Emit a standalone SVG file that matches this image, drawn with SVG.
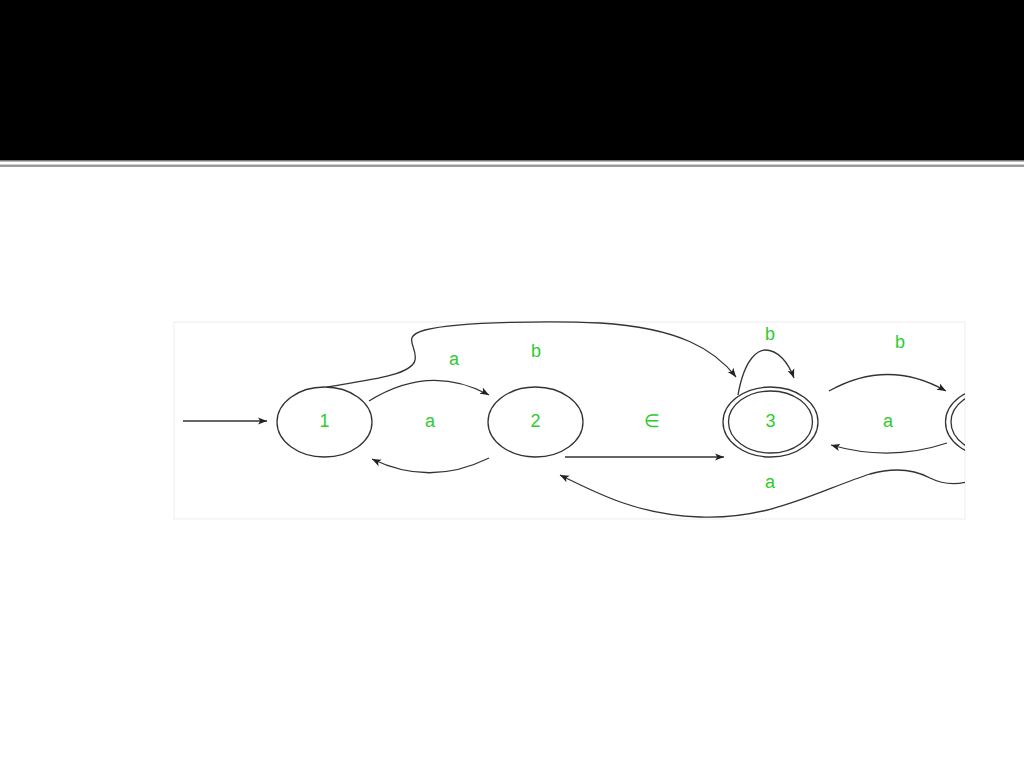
<svg xmlns="http://www.w3.org/2000/svg" width="1024" height="768" viewBox="0 0 1024 768">
<style>
.node{fill:none;stroke:#333;stroke-width:1.3}
.edge{fill:none;stroke:#333;stroke-width:1.3}
.lbl{font-family:"Liberation Sans",Arial,sans-serif;font-size:18px;fill:#2ecc2e;text-anchor:middle;dominant-baseline:central}
</style>
<defs>
<marker id="arr" viewBox="0 0 10 10" refX="10" refY="5" markerWidth="9" markerHeight="9" markerUnits="userSpaceOnUse" orient="auto">
<path d="M0,1 L10,5 L0,9 L2.5,5 Z" fill="#222"/>
</marker>
<clipPath id="panel"><rect x="174" y="316" width="791" height="204"/></clipPath>
</defs>
<rect width="1024" height="768" fill="#fff"/>
<rect x="0" y="0" width="1024" height="160" fill="#000"/>
<rect x="0" y="160" width="1024" height="1.5" fill="#777"/>
<rect x="0" y="164.5" width="1024" height="2.5" fill="#9a9a9a"/>
<rect x="174" y="322" width="791" height="197" fill="#fff" stroke="#f3f3f3" stroke-width="1.5"/>
<g clip-path="url(#panel)">
<g id="connectors">
<path class="edge" d="M183,421 L267,421" marker-end="url(#arr)"/>
<path class="edge" d="M369,401 Q430,363 489,395" marker-end="url(#arr)"/>
<path class="edge" d="M489,458 Q430,487 372,459" marker-end="url(#arr)"/>
<path class="edge" d="M327,387 C370,380 412,375 415,360 C418,346 400,337 425,330 C460,321 560,321 600,323 C680,328 715,350 736,377" marker-end="url(#arr)"/>
<path class="edge" d="M565,457 L724,457" marker-end="url(#arr)"/>
<path class="edge" d="M738,395 C745,355 760,350 765,350 C778,350 788,362 794,378" marker-end="url(#arr)"/>
<path class="edge" d="M829,391 Q888,358 946,391" marker-end="url(#arr)"/>
<path class="edge" d="M947,443 Q890,462 831,445" marker-end="url(#arr)"/>
<path class="edge" d="M967,482 C950,486 938,482 930,478 C915,470 895,467 870,474 C820,490 770,520 700,517 C640,515 600,495 560,475" marker-end="url(#arr)"/>
</g>
<g id="node1"><ellipse class="node" cx="324.5" cy="422" rx="47.5" ry="35"/><text class="lbl" x="324.5" y="421">1</text></g>
<g id="node2"><ellipse class="node" cx="535.5" cy="422" rx="47.5" ry="35"/><text class="lbl" x="535.5" y="421">2</text></g>
<g id="node3"><ellipse class="node" cx="770.5" cy="422" rx="47.5" ry="35"/><ellipse class="node" cx="770.5" cy="422" rx="42" ry="31"/><text class="lbl" x="770.5" y="421">3</text></g>
<g id="node4"><ellipse class="node" cx="993" cy="422" rx="47.5" ry="35"/><ellipse class="node" cx="993" cy="422" rx="42" ry="31"/></g>
<g id="labels">
<text class="lbl" x="430" y="421">a</text>
<text class="lbl" x="454" y="359">a</text>
<text class="lbl" x="536" y="351">b</text>
<text class="lbl" x="652" y="421">∈</text>
<text class="lbl" x="770" y="334">b</text>
<text class="lbl" x="900" y="342">b</text>
<text class="lbl" x="888" y="421">a</text>
<text class="lbl" x="770" y="482">a</text>
</g>
</g>
</svg>
